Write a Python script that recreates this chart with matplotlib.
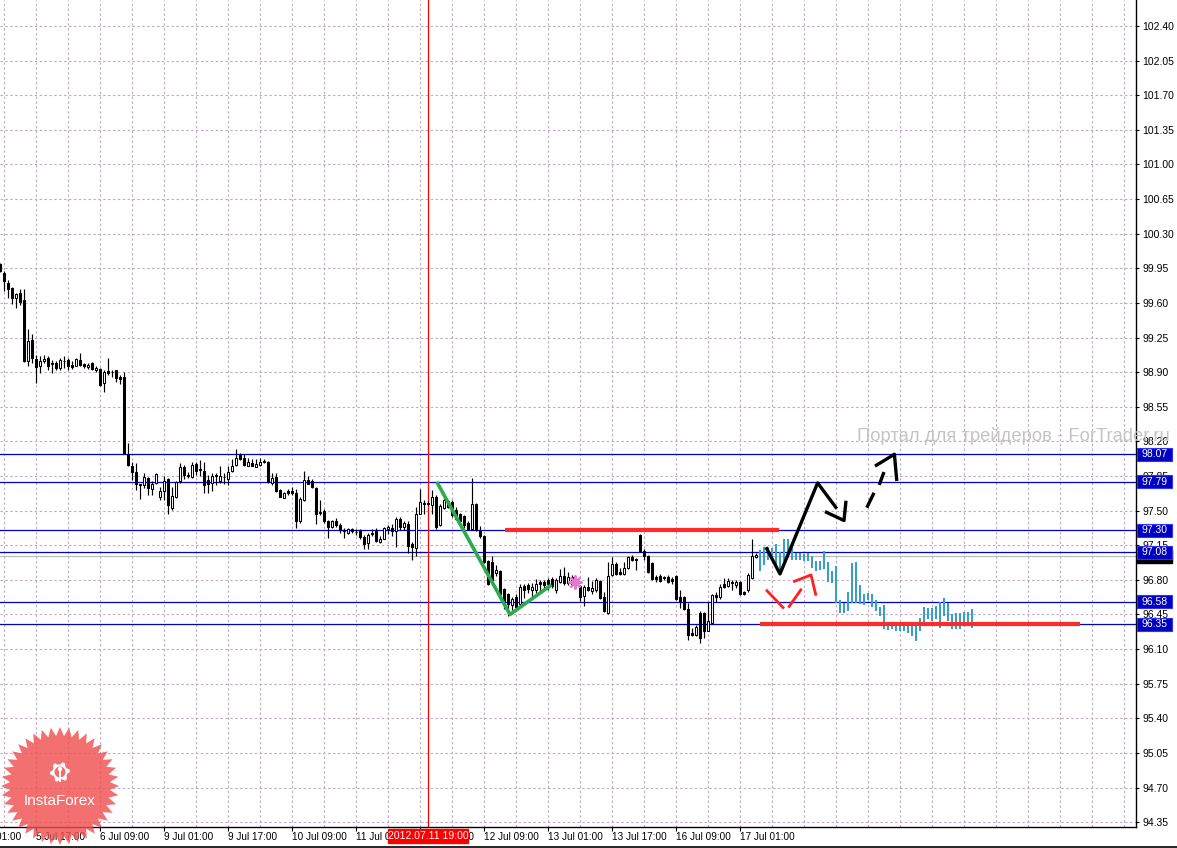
import numpy as np
import matplotlib
matplotlib.use('Agg')
import matplotlib.pyplot as plt
from matplotlib import font_manager
from matplotlib import transforms
from matplotlib.patches import Polygon, Rectangle
from matplotlib.lines import Line2D

installed = {f.name for f in font_manager.fontManager.ttflist}
narrow = 'Liberation Sans Narrow' if 'Liberation Sans Narrow' in installed else 'Liberation Sans'

# hourly candles (index 0 = left edge)
opens = [
    99.99, 99.90, 99.80, 99.75, 99.65, 99.70, 99.63, 99.01, 99.23, 99.03,
    98.96, 99.01, 99.04, 98.99, 98.99, 98.94, 99.01, 99.02, 98.97, 98.96,
    99.02, 98.98, 98.95, 98.99, 98.92, 98.93, 98.79, 98.91, 98.90, 98.92,
    98.85, 98.85, 98.07, 97.95, 97.89, 97.77, 97.76, 97.83, 97.72, 97.78,
    97.64, 97.70, 97.82, 97.53, 97.64, 97.80, 97.94, 97.86, 97.84, 97.97,
    97.92, 97.90, 97.81, 97.78, 97.86, 97.80, 97.84, 97.82, 97.90, 97.96,
    98.06, 98.03, 97.95, 97.98, 97.94, 97.96, 98.00, 97.99, 97.78, 97.84,
    97.71, 97.63, 97.70, 97.70, 97.68, 97.39, 97.61, 97.81, 97.80, 97.73,
    97.49, 97.50, 97.40, 97.33, 97.39, 97.35, 97.30, 97.27, 97.31, 97.28,
    97.29, 97.23, 97.17, 97.26, 97.29, 97.18, 97.21, 97.31, 97.32, 97.29,
    97.42, 97.33, 97.36, 97.16, 97.12, 97.47, 97.58, 97.58, 97.56, 97.64,
    97.35, 97.53, 97.60, 97.59, 97.51, 97.47, 97.45, 97.37, 97.31, 97.57,
    97.29, 97.24, 96.99, 96.98, 96.87, 96.89, 96.71, 96.66, 96.55, 96.63,
    96.56, 96.74, 96.75, 96.70, 96.70, 96.78, 96.78, 96.80, 96.81, 96.70,
    96.78, 96.84, 96.77, 96.83, 96.80, 96.74, 96.64, 96.73, 96.69, 96.70,
    96.79, 96.63, 96.46, 96.85, 96.96, 96.88, 96.86, 96.92, 97.03, 97.01,
    97.25, 97.09, 97.04, 96.97, 96.83, 96.84, 96.83, 96.83, 96.81, 96.84,
    96.63, 96.63, 96.51, 96.26, 96.24, 96.46, 96.46, 96.28, 96.36, 96.65,
    96.63, 96.76, 96.74, 96.78, 96.75, 96.78, 96.68, 96.70, 96.82, 97.03,
]
closes = [
    99.92, 99.82, 99.74, 99.65, 99.69, 99.61, 99.01, 99.22, 99.04, 98.95,
    99.01, 99.03, 98.96, 98.98, 98.94, 99.02, 99.01, 98.96, 98.95, 99.03,
    98.97, 98.96, 98.97, 98.93, 98.94, 98.77, 98.90, 98.89, 98.90, 98.84,
    98.83, 98.07, 97.96, 97.89, 97.77, 97.76, 97.84, 97.73, 97.77, 97.87,
    97.70, 97.80, 97.56, 97.65, 97.79, 97.94, 97.86, 97.85, 97.96, 97.90,
    97.91, 97.76, 97.77, 97.85, 97.85, 97.85, 97.84, 97.89, 97.95, 98.03,
    98.02, 97.96, 97.99, 97.95, 97.97, 97.99, 97.99, 97.79, 97.83, 97.70,
    97.64, 97.68, 97.68, 97.68, 97.39, 97.62, 97.81, 97.77, 97.74, 97.47,
    97.48, 97.40, 97.33, 97.39, 97.35, 97.30, 97.29, 97.31, 97.29, 97.28,
    97.23, 97.16, 97.25, 97.27, 97.19, 97.21, 97.32, 97.33, 97.29, 97.42,
    97.33, 97.37, 97.14, 97.13, 97.47, 97.59, 97.57, 97.57, 97.64, 97.33,
    97.55, 97.61, 97.54, 97.46, 97.42, 97.39, 97.35, 97.31, 97.57, 97.30,
    97.24, 96.98, 96.76, 96.80, 96.90, 96.66, 96.55, 96.56, 96.61, 96.53,
    96.73, 96.70, 96.71, 96.73, 96.76, 96.76, 96.75, 96.76, 96.74, 96.80,
    96.84, 96.77, 96.83, 96.76, 96.75, 96.63, 96.73, 96.70, 96.72, 96.80,
    96.62, 96.48, 96.84, 96.96, 96.86, 96.86, 96.92, 97.03, 97.00, 97.00,
    97.09, 97.04, 96.88, 96.81, 96.81, 96.79, 96.82, 96.78, 96.79, 96.61,
    96.59, 96.51, 96.24, 96.24, 96.32, 96.21, 96.28, 96.38, 96.65, 96.63,
    96.73, 96.73, 96.79, 96.77, 96.78, 96.66, 96.66, 96.85, 97.04, 97.05,
]
highs = [
    100.00, 99.92, 99.83, 99.76, 99.70, 99.74, 99.74, 99.34, 99.29, 99.07,
    99.06, 99.07, 99.06, 99.02, 99.01, 99.04, 99.06, 99.04, 99.01, 99.04,
    99.09, 98.99, 98.99, 99.00, 98.96, 98.94, 98.92, 99.04, 98.92, 98.92,
    98.87, 98.90, 98.18, 97.99, 97.98, 97.77, 97.88, 97.84, 97.80, 97.88,
    97.74, 97.85, 97.83, 97.74, 97.80, 97.98, 97.96, 97.89, 97.99, 97.99,
    98.01, 97.99, 97.86, 97.88, 97.88, 97.95, 97.88, 97.95, 98.02, 98.12,
    98.08, 98.07, 98.03, 98.02, 98.02, 98.03, 98.02, 98.00, 97.88, 97.88,
    97.72, 97.69, 97.72, 97.74, 97.72, 97.64, 97.90, 97.85, 97.82, 97.74,
    97.61, 97.52, 97.41, 97.41, 97.43, 97.37, 97.32, 97.32, 97.32, 97.31,
    97.31, 97.25, 97.27, 97.31, 97.32, 97.24, 97.33, 97.35, 97.36, 97.44,
    97.44, 97.40, 97.39, 97.18, 97.54, 97.72, 97.61, 97.60, 97.71, 97.66,
    97.57, 97.63, 97.61, 97.61, 97.54, 97.48, 97.46, 97.40, 97.83, 97.58,
    97.34, 97.25, 97.00, 97.04, 96.95, 96.90, 96.72, 96.67, 96.63, 96.66,
    96.76, 96.76, 96.77, 96.77, 96.81, 96.80, 96.80, 96.82, 96.83, 96.82,
    96.91, 96.93, 96.88, 96.85, 96.82, 96.75, 96.75, 96.83, 96.79, 96.82,
    96.80, 96.68, 96.98, 97.03, 96.98, 96.92, 96.98, 97.04, 97.05, 97.02,
    97.26, 97.11, 97.05, 96.98, 96.85, 96.86, 96.84, 96.85, 96.83, 96.85,
    96.70, 96.64, 96.57, 96.31, 96.34, 96.49, 96.47, 96.58, 96.66, 96.68,
    96.76, 96.82, 96.82, 96.80, 96.80, 96.79, 96.69, 96.87, 97.21, 97.07,
]
lows = [
    99.91, 99.72, 99.65, 99.59, 99.55, 99.58, 99.00, 98.96, 98.99, 98.79,
    98.89, 98.99, 98.92, 98.89, 98.92, 98.92, 98.94, 98.92, 98.93, 98.96,
    98.96, 98.94, 98.93, 98.92, 98.90, 98.76, 98.70, 98.87, 98.85, 98.80,
    98.78, 98.07, 97.95, 97.81, 97.71, 97.62, 97.73, 97.66, 97.66, 97.77,
    97.61, 97.61, 97.47, 97.51, 97.63, 97.78, 97.82, 97.83, 97.83, 97.86,
    97.85, 97.68, 97.68, 97.70, 97.76, 97.78, 97.77, 97.76, 97.89, 97.95,
    98.01, 97.95, 97.95, 97.95, 97.94, 97.95, 97.98, 97.78, 97.76, 97.69,
    97.64, 97.63, 97.66, 97.66, 97.32, 97.37, 97.60, 97.77, 97.73, 97.36,
    97.46, 97.37, 97.22, 97.32, 97.33, 97.27, 97.22, 97.26, 97.27, 97.25,
    97.21, 97.11, 97.11, 97.24, 97.18, 97.17, 97.21, 97.26, 97.24, 97.13,
    97.30, 97.30, 97.07, 97.00, 97.04, 97.47, 97.47, 97.56, 97.47, 97.31,
    97.34, 97.52, 97.53, 97.44, 97.41, 97.35, 97.32, 97.30, 97.30, 97.29,
    97.22, 96.97, 96.75, 96.75, 96.84, 96.63, 96.51, 96.43, 96.50, 96.51,
    96.53, 96.62, 96.67, 96.63, 96.67, 96.67, 96.71, 96.70, 96.72, 96.67,
    96.77, 96.75, 96.75, 96.74, 96.73, 96.59, 96.54, 96.69, 96.66, 96.68,
    96.61, 96.47, 96.45, 96.84, 96.85, 96.85, 96.85, 96.91, 96.99, 96.90,
    97.08, 97.00, 96.87, 96.80, 96.78, 96.78, 96.80, 96.77, 96.76, 96.60,
    96.52, 96.50, 96.19, 96.23, 96.23, 96.16, 96.21, 96.28, 96.35, 96.58,
    96.61, 96.72, 96.73, 96.70, 96.72, 96.65, 96.65, 96.68, 96.81, 97.02,
]

# projected (cyan) bars after the last real candle
proj_high = [
    97.10, 97.13, 97.13, 97.12, 97.16, 97.08, 97.21, 97.21, 97.16, 97.07,
    97.07, 97.06, 97.07, 97.04, 96.99, 96.99, 97.09, 96.98, 96.89, 96.94,
    96.60, 96.57, 96.68, 96.97, 96.98, 96.75, 96.66, 96.67, 96.66, 96.60,
    96.53, 96.55, 96.36, 96.35, 96.35, 96.35, 96.36, 96.37, 96.37, 96.33,
    96.41, 96.53, 96.52, 96.52, 96.54, 96.58, 96.62, 96.57, 96.45, 96.46,
    96.46, 96.47, 96.47, 96.51,
]
proj_low = [
    96.89, 96.95, 97.00, 96.99, 96.94, 96.90, 96.99, 97.02, 97.00, 97.00,
    97.00, 96.99, 96.99, 96.92, 96.89, 96.90, 96.91, 96.78, 96.77, 96.57,
    96.46, 96.46, 96.48, 96.57, 96.57, 96.56, 96.55, 96.60, 96.53, 96.48,
    96.43, 96.30, 96.29, 96.30, 96.28, 96.28, 96.28, 96.26, 96.23, 96.18,
    96.28, 96.36, 96.40, 96.38, 96.40, 96.31, 96.43, 96.38, 96.30, 96.30,
    96.30, 96.36, 96.37, 96.31,
]

levels = [98.07, 97.79, 97.30, 97.08, 96.58, 96.35]
bid_price = 97.04
time_labels = ['5 Jul 01:00', '5 Jul 17:00', '6 Jul 09:00', '9 Jul 01:00', '9 Jul 17:00',
               '10 Jul 09:00', '11 Jul 01:00', '11 Jul 17:00', '12 Jul 09:00', '13 Jul 01:00',
               '13 Jul 17:00', '16 Jul 09:00', '17 Jul 01:00']
cursor_bar = 107
cursor_label = '2012.07.11 19:00'

# hand drawn marks (bar index, price)
green_path = [(109.2, 97.79), (127.5, 96.45), (137.9, 96.75)]
red_resist = [(126.25, 97.30), (194.75, 97.30)]
red_support = [(190.0, 96.35), (270.0, 96.35)]
black_path = [(191.5, 97.13), (195.0, 96.86), (204.4, 97.78), (209.2, 97.52)]
black_head = [(206.25, 97.49), (211.0, 97.40), (211.5, 97.60)]
dash_1 = [(216.7, 97.53), (218.5, 97.68)]
dash_2 = [(219.8, 97.76), (221.0, 97.89)]
dash_head = [(218.75, 97.95), (223.6, 98.07), (224.2, 97.80)]
red_v = [(191.5, 96.70), (196.0, 96.51)]
red_v2 = [(197.1, 96.52), (200.4, 96.71)]
red_up = [(198.3, 96.78), (202.75, 96.85), (204.0, 96.64)]
star_point = (143.75, 96.78)

W, H = 1177, 848
fig = plt.figure(figsize=(W / 100, H / 100), dpi=100)
fig.patch.set_facecolor('white')
ax = fig.add_axes([0, 21 / H, 1136 / W, 827 / H])
ax.set_xlim(0, 284)
ax.set_ylim(94.301, 102.663)
for s in ['top', 'left']:
    ax.spines[s].set_visible(False)
for s in ['right', 'bottom']:
    ax.spines[s].set_color('black')
    ax.spines[s].set_linewidth(1.0)

price_ticks = np.round(np.arange(94.35, 102.41, 0.35), 2)
grid_x = np.arange(1, 284, 8)
grid_kw = dict(color='#c2aac2', lw=0.8, dashes=(2.2, 2.2), zorder=0)
for p in price_ticks:
    ax.axhline(p, **grid_kw)
for gx in grid_x:
    ax.axvline(gx, **grid_kw)

ax.yaxis.tick_right()
ax.set_yticks(price_ticks)
ax.set_yticklabels([f'{p:.2f}' for p in price_ticks], family=narrow, fontsize=7.5)
ax.tick_params(axis='y', length=2.5, pad=2, width=0.8)

label_pos = [-7 + 16 * k for k in range(len(time_labels))]
ax.set_xticks([p for p in label_pos if p >= 0])
ax.set_xticklabels([])
ax.tick_params(axis='x', length=3, width=0.8)
xt = transforms.blended_transform_factory(ax.transData, ax.transAxes)
for p, lab in zip(label_pos, time_labels):
    ax.text(p + 0.1, -0.0115, lab, transform=xt, ha='left', va='center',
            family=narrow, fontsize=7.2, clip_on=False)

# levels
for lv in levels:
    ax.axhline(lv, color='#0000c8', lw=0.9, zorder=2)
ax.axhline(bid_price, color='#b8b8b8', lw=0.8, zorder=1)
ax.axvline(cursor_bar, color='#ff0000', lw=0.9, zorder=2)

# candles
o = np.array(opens)
c = np.array(closes)
hi = np.maximum(np.array(highs), np.maximum(o, c))
lo = np.minimum(np.array(lows), np.minimum(o, c))
xs = np.arange(len(o))
ax.vlines(xs, lo, hi, color='black', lw=0.85, zorder=3)
body_lo = np.minimum(o, c)
body_h = np.maximum(np.abs(c - o), 0.004)
faces = ['white' if cc > oo else 'black' for oo, cc in zip(o, c)]
ax.bar(xs, body_h, bottom=body_lo, width=0.68, color=faces, edgecolor='black',
       linewidth=0.75, zorder=4)

# projected bars
px = np.arange(len(o), len(o) + len(proj_high))
ax.bar(px, np.array(proj_high) - np.array(proj_low), bottom=proj_low, width=0.68,
       color='#38a0c2', edgecolor='none', zorder=4)

# drawings
def draw(path, **kw):
    xx, yy = zip(*path)
    ax.plot(xx, yy, solid_capstyle='butt', **kw)

draw(red_resist, color='#ff2a2a', lw=3, zorder=5)
draw(red_support, color='#ff2a2a', lw=3, zorder=5)
draw(green_path, color='#2eaa4e', lw=2.6, zorder=6)
for pth in [black_path, black_head, dash_1, dash_2, dash_head]:
    draw(pth, color='black', lw=2.4, zorder=6)
for pth in [red_v, red_v2, red_up]:
    draw(pth, color='#ff2020', lw=2.0, zorder=6)
ax.plot(*star_point, marker=(8, 2, 0), ms=10, mew=1.6, color='#e27ad0', zorder=6)

# price boxes on the axis
yt = transforms.blended_transform_factory(ax.transAxes, ax.transData)
bw = 35 / 1136
bh = 13 / 98.9
ax.add_patch(Rectangle((1 + 1 / 1136, bid_price - bh / 2), bw, bh, transform=yt,
                       fc='black', ec='black', clip_on=False, zorder=7))
ax.text(1 + 5 / 1136, bid_price, f'{bid_price:.2f}', transform=yt, va='center', ha='left',
        color='white', family=narrow, fontsize=7.5, clip_on=False, zorder=8)
for lv in levels:
    ax.add_patch(Rectangle((1 + 1 / 1136, lv - bh / 2), bw, bh, transform=yt,
                           fc='#0000c0', ec='#3030ff', lw=0.8, clip_on=False, zorder=9))
    ax.text(1 + 5 / 1136, lv, f'{lv:.2f}', transform=yt, va='center', ha='left',
            color='white', family=narrow, fontsize=7.5, clip_on=False, zorder=10)

# cursor time label
ax.add_patch(Rectangle((cursor_bar - 10, -0.0195), 20, 0.0175, transform=xt,
                       fc='#ff0000', ec='#ff0000', clip_on=False, zorder=9))
ax.text(cursor_bar, -0.0108, cursor_label, transform=xt, ha='center', va='center',
        color='white', family=narrow, fontsize=7.5, clip_on=False, zorder=10)

# watermark text
fig.text(1170 / W, 1 - 436 / H, 'Портал для трейдеров - ForTrader.ru', ha='right', va='center',
         color='#c4c4c4', fontsize=13.2, family='Liberation Sans', zorder=20)

# InstaForex badge
cx, cy = 60, 786
n = 40
ang = np.pi / 2 + np.arange(2 * n) * np.pi / n
rad = np.where(np.arange(2 * n) % 2 == 0, 59, 50)
star_xy = np.column_stack([(cx + rad * np.cos(ang)) / W, 1 - (cy - rad * np.sin(ang)) / H])
fig.patches.append(Polygon(star_xy, closed=True, transform=fig.transFigure,
                           fc='#f05050', ec='none', alpha=0.82, zorder=15))
gx0, gy0 = 60, 772
ga = np.linspace(0, 2 * np.pi, 25)[:-1]
gear = []
for k, a in enumerate(ga):
    r = 10 if (k // 2) % 2 == 0 else 7.5
    gear.append(((gx0 + r * np.cos(a)) / W, 1 - (gy0 - r * np.sin(a)) / H))
fig.patches.append(Polygon(gear, closed=True, transform=fig.transFigure,
                           fc='white', ec='none', zorder=16))
fig.patches.append(Polygon([((gx0 + 5.5 * np.cos(a)) / W, 1 - (gy0 - 5.5 * np.sin(a)) / H)
                            for a in np.linspace(0, 2 * np.pi, 24)], closed=True,
                           transform=fig.transFigure, fc='#f26a6a', ec='none', zorder=17))
fig.patches.append(Rectangle(((gx0 - 1.2) / W, 1 - (gy0 + 10) / H), 2.4 / W, 12 / H,
                             transform=fig.transFigure, fc='white', ec='none', zorder=18))
fig.patches.append(Polygon([((gx0 + 2.2 * np.cos(a)) / W, 1 - (gy0 - 3 - 2.2 * np.sin(a)) / H)
                            for a in np.linspace(0, 2 * np.pi, 16)], closed=True,
                           transform=fig.transFigure, fc='white', ec='none', zorder=18))
fig.text(cx / W, 1 - 801 / H, 'InstaForex', ha='center', va='center', color='white',
         fontsize=11, family='Liberation Sans', zorder=19)

# outer frame line at the bottom
fig.add_artist(Line2D([0, 1], [0.6 / H, 0.6 / H], color='black', lw=1.2))

fig.savefig('out.png', dpi=100, facecolor='white')
